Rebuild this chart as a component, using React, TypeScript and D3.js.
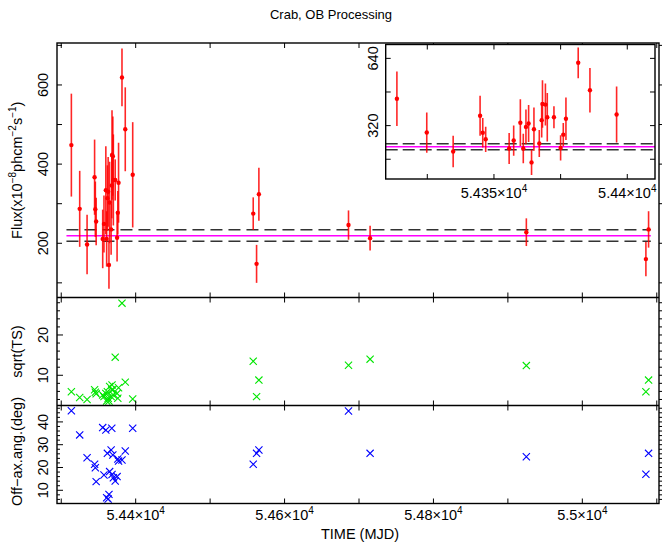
import React from "react";
import * as d3 from "d3";

// light curve points (MJD, flux in 1e-8 ph/cm2/s, 1-sigma error)
const mjd = [
  54313.6, 54324.8, 54334.7, 54344.8, 54345.8, 54346.9, 54355.7, 54357.4, 54359.9,
  54361.0, 54362.0, 54363.0, 54364.1, 54365.0, 54367.0, 54367.9, 54368.2, 54369.3,
  54370.0, 54372.5, 54375.0, 54376.0, 54377.0, 54381.6, 54386.0, 54396.0,
  54557.9, 54562.4, 54565.5, 54685.9, 54714.9, 54924.8, 55085.4, 55089.0,
];
const flux = [
  448, 287, 197, 367, 286, 255, 211, 249, 334, 211, 314, 330, 145, 303, 235, 346, 423, 420,
  360, 360, 214, 277, 353, 619, 488, 373,
  275, 148, 324, 246, 213, 228, 160, 235,
];
const fluxErr = [
  130, 96, 75, 95, 70, 60, 74, 72, 111, 70, 83, 88, 60, 103, 64, 83, 113, 100,
  115, 52, 60, 55, 101, 73, 106, 133,
  41, 48, 67, 37, 31, 35, 43, 46,
];
const sqrtTS = [
  5.9, 4.5, 4.0, 6.4, 5.8, 5.4, 5.1, 4.7, 5.5, 3.6, 5.9, 4.3, 3.6, 7.2, 4.7, 6.4, 7.6, 6.4,
  5.1, 14.5, 5.5, 4.3, 6.9, 27.9, 8.3, 4.1,
  13.5, 4.7, 8.8, 12.5, 14.0, 12.4, 5.9, 8.8,
];
const offAxis = [
  44.9, 34.3, 24.3, 21.4, 19.9, 13.8, 37.5, 16.7, 36.4, 6.7, 26.2, 6.2, 8.2, 18.2, 27.7, 37.2, 16.9, 25.5,
  15.5, 14.1, 16.0, 23.7, 22.8, 23.3, 27.2, 37.2,
  21.4, 26.2, 27.7, 44.8, 26.2, 24.7, 17.0, 26.2,
];

// weighted mean flux and its band
const meanFlux = 219;
const meanBand = [205, 234];
const meanSpan = [54307, 55092];

const xTicks = [54300, 54400, 54500, 54600, 54700, 54800, 54900, 55000, 55100];
const xLabels = [54400, 54600, 54800, 55000];
const fluxTicks = [100, 200, 300, 400, 500, 600, 700];
const fluxLabels = [200, 400, 600];
const tsTicks = d3.range(4, 29, 2);
const tsLabels = [10, 20];
const angTicks = d3.range(6, 47, 2);
const angLabels = [10, 20, 30, 40];
const insetXTicks = [54325, 54350, 54375, 54400];
const insetXLabels = [54350, 54400];
const insetYTicks = [160, 320, 480, 640];
const insetYLabels = [320, 640];

const W = 662;
const H = 544;
const left = 57;
const right = 659;
const p1 = [43, 297.5];
const p2 = [297.5, 405.5];
const p3 = [405.5, 503.5];
const inset = { x0: 385.7, x1: 655, y0: 44.5, y1: 179 };

const font = "'Liberation Sans', Arial, Helvetica, sans-serif";
const red = "#ff0000";
const green = "#00e600";
const blue = "#0000ff";

const x = d3.scaleLinear().domain([54294.3, 55103]).range([left, right]);
const yFlux = d3.scaleLinear().domain([63, 706]).range([p1[1], p1[0]]);
const yTS = d3.scaleLinear().domain([2.5, 29.3]).range([p2[1], p2[0]]);
const yAng = d3.scaleLinear().domain([4.2, 47.2]).range([p3[1], p3[0]]);
const xIn = d3.scaleLinear().domain([54309.4, 54410.4]).range([inset.x0, inset.x1]);
const yIn = d3.scaleLinear().domain([66, 706]).range([inset.y1, inset.y0]);

const points = mjd.map((t, i) => ({
  t,
  f: flux[i],
  e: fluxErr[i],
  ts: sqrtTS[i],
  ang: offAxis[i],
}));

// "5.44x10^4" style label
const sciLabel = (v, digits) => {
  const m = (v / 1e4).toFixed(digits).replace(/0+$/, "").replace(/\.$/, "");
  return (
    <>
      <tspan>{m}×10</tspan>
      <tspan dy={-6} fontSize={10}>4</tspan>
    </>
  );
};

const Cross = ({ cx, cy, color }) => {
  const s = 3.6;
  return (
    <path
      d={`M${cx - s},${cy - s}L${cx + s},${cy + s}M${cx - s},${cy + s}L${cx + s},${cy - s}`}
      stroke={color}
      strokeWidth={1.1}
      fill="none"
    />
  );
};

const LeftTicks = ({ ticks, labels, y, top, bottom, major = 5, minor = 5 }) => (
  <g>
    {ticks.map((v) => {
      const len = labels.includes(v) ? major : minor;
      const yy = y(v);
      if (yy < top || yy > bottom) return null;
      return (
        <g key={v}>
          <line x1={left} x2={left + len} y1={yy} y2={yy} stroke="#000" />
          <line x1={right} x2={right + 4} y1={yy} y2={yy} stroke="#000" />
        </g>
      );
    })}
    {labels.map((v) => (
      <text
        key={v}
        transform={`translate(48,${y(v)}) rotate(-90)`}
        textAnchor="middle"
        fontSize={14.5}
        fontFamily={font}
      >
        {v}
      </text>
    ))}
  </g>
);

const XTicks = ({ top, bottom }) => (
  <g>
    {xTicks.map((v) => (
      <g key={v}>
        <line x1={x(v)} x2={x(v)} y1={top} y2={top + 5} stroke="#000" />
        <line x1={x(v)} x2={x(v)} y1={bottom} y2={bottom - 5} stroke="#000" />
      </g>
    ))}
  </g>
);

export default function App() {
  const insetPts = points.filter((d) => d.t >= 54309.4 && d.t <= 54410.4);

  return (
    <svg width={W} height={H} style={{ position: "absolute", left: 0, top: 0 }}>
      <rect width={W} height={H} fill="#fff" />
      <defs>
        <clipPath id="insetClip">
          <rect x={inset.x0} y={inset.y0} width={inset.x1 - inset.x0} height={inset.y1 - inset.y0} />
        </clipPath>
      </defs>

      <text x={331} y={19} textAnchor="middle" fontSize={13} fontFamily={font}>
        Crab, OB Processing
      </text>

      {/* flux panel */}
      <line x1={x(meanSpan[0])} x2={x(meanSpan[1])} y1={yFlux(meanFlux)} y2={yFlux(meanFlux)} stroke="#ff00ff" strokeWidth={1.5} />
      {meanBand.map((v) => (
        <line
          key={v}
          x1={x(meanSpan[0])}
          x2={x(meanSpan[1])}
          y1={yFlux(v)}
          y2={yFlux(v)}
          stroke="#333"
          strokeWidth={1.4}
          strokeDasharray="12,6"
        />
      ))}
      {points.map((d, i) => (
        <g key={i}>
          <line x1={x(d.t)} x2={x(d.t)} y1={yFlux(d.f - d.e)} y2={yFlux(d.f + d.e)} stroke={red} strokeWidth={1.6} strokeOpacity={0.85} />
          <circle cx={x(d.t)} cy={yFlux(d.f)} r={2.2} fill={red} />
        </g>
      ))}

      {/* sqrt(TS) panel */}
      {points.map((d, i) => (
        <Cross key={i} cx={x(d.t)} cy={yTS(d.ts)} color={green} />
      ))}

      {/* off-axis angle panel */}
      {points.map((d, i) => (
        <Cross key={i} cx={x(d.t)} cy={yAng(d.ang)} color={blue} />
      ))}

      {/* frames and ticks */}
      <LeftTicks ticks={fluxTicks} labels={fluxLabels} y={yFlux} top={p1[0]} bottom={p1[1]} />
      <LeftTicks ticks={tsTicks} labels={tsLabels} y={yTS} top={p2[0]} bottom={p2[1]} major={6} minor={3} />
      <LeftTicks ticks={angTicks} labels={angLabels} y={yAng} top={p3[0]} bottom={p3[1]} major={6} minor={3} />
      <XTicks top={p1[0]} bottom={p1[1]} />
      <XTicks top={p2[0]} bottom={p2[1]} />
      <XTicks top={p3[0]} bottom={p3[1]} />
      <rect x={left} y={p1[0]} width={right - left} height={p3[1] - p1[0]} fill="none" stroke="#000" strokeWidth={1.4} />
      <line x1={left} x2={right} y1={p2[0]} y2={p2[0]} stroke="#000" strokeWidth={1.4} />
      <line x1={left} x2={right} y1={p3[0]} y2={p3[0]} stroke="#000" strokeWidth={1.4} />

      {xLabels.map((v) => (
        <text key={v} x={x(v)} y={520} textAnchor="middle" fontSize={14.5} fontFamily={font}>
          {sciLabel(v, 2)}
        </text>
      ))}
      <text x={360} y={539} textAnchor="middle" fontSize={14.5} fontFamily={font}>
        TIME (MJD)
      </text>

      {/* y-axis titles */}
      <text transform={`translate(21.5,${(p1[0] + p1[1]) / 2}) rotate(-90)`} textAnchor="middle" fontSize={14.5} fontFamily={font}>
        Flux(x10<tspan dy={-6} fontSize={10}>−8</tspan>
        <tspan dy={6}>phcm</tspan>
        <tspan dy={-6} fontSize={10}>−2</tspan>
        <tspan dy={6}>s</tspan>
        <tspan dy={-6} fontSize={10}>−1</tspan>
        <tspan dy={6}>)</tspan>
      </text>
      <text transform={`translate(21.5,${(p2[0] + p2[1]) / 2}) rotate(-90)`} textAnchor="middle" fontSize={14.5} fontFamily={font}>
        sqrt(TS)
      </text>
      <text transform={`translate(21.5,${(p3[0] + p3[1]) / 2 - 3}) rotate(-90)`} textAnchor="middle" fontSize={14.5} fontFamily={font}>
        Off−ax.ang.(deg)
      </text>

      {/* inset zoom on the 2007 cluster */}
      <rect x={inset.x0} y={inset.y0} width={inset.x1 - inset.x0} height={inset.y1 - inset.y0} fill="#fff" />
      <g clipPath="url(#insetClip)">
        <line x1={inset.x0} x2={inset.x1} y1={yIn(meanFlux)} y2={yIn(meanFlux)} stroke="#ff00ff" strokeWidth={1.5} />
        {meanBand.map((v) => (
          <line
            key={v}
            x1={inset.x0}
            x2={inset.x1}
            y1={yIn(v)}
            y2={yIn(v)}
            stroke="#333"
            strokeWidth={1.4}
            strokeDasharray="12,5"
          />
        ))}
        {insetPts.map((d, i) => (
          <g key={i}>
            <line x1={xIn(d.t)} x2={xIn(d.t)} y1={yIn(d.f - d.e)} y2={yIn(d.f + d.e)} stroke={red} strokeWidth={1.6} strokeOpacity={0.85} />
            <circle cx={xIn(d.t)} cy={yIn(d.f)} r={2.2} fill={red} />
          </g>
        ))}
      </g>
      {insetXTicks.map((v) => (
        <g key={v}>
          <line x1={xIn(v)} x2={xIn(v)} y1={inset.y0} y2={inset.y0 + 5} stroke="#000" />
          <line x1={xIn(v)} x2={xIn(v)} y1={inset.y1} y2={inset.y1 - 5} stroke="#000" />
        </g>
      ))}
      {insetYTicks.map((v) => (
        <g key={v}>
          <line x1={inset.x0} x2={inset.x0 + 5} y1={yIn(v)} y2={yIn(v)} stroke="#000" />
          <line x1={inset.x1} x2={inset.x1 - 5} y1={yIn(v)} y2={yIn(v)} stroke="#000" />
        </g>
      ))}
      <rect x={inset.x0} y={inset.y0} width={inset.x1 - inset.x0} height={inset.y1 - inset.y0} fill="none" stroke="#000" strokeWidth={1.4} />
      {insetXLabels.map((v) => (
        <text key={v} x={xIn(v)} y={198} textAnchor="middle" fontSize={14.5} fontFamily={font}>
          {sciLabel(v, 3)}
        </text>
      ))}
      {insetYLabels.map((v) => (
        <text key={v} transform={`translate(377.5,${yIn(v)}) rotate(-90)`} textAnchor="middle" fontSize={14.5} fontFamily={font}>
          {v}
        </text>
      ))}
    </svg>
  );
}
